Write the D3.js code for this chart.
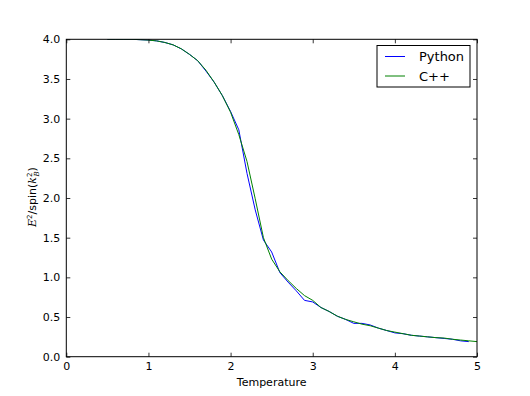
<!DOCTYPE html>
<html>
<head>
<meta charset="utf-8">
<script src="https://cdn.jsdelivr.net/npm/d3@7"></script>
<style>
  html, body { margin: 0; padding: 0; background: #fff; }
  svg { display: block; }
  text { font-family: "DejaVu Sans", sans-serif; fill: #000; }
</style>
</head>
<body>
<svg id="chart" width="530" height="396"></svg>
<script>
// ---- data ----
const pythonTemps = [0.5,0.6,0.7,0.8,0.9,1.0,1.1,1.2,1.3,1.4,1.5,1.6,1.7,1.8,1.9,2.0,2.1,2.2,2.3,2.4,2.5,2.6,2.7,2.8,2.9,3.0,3.1,3.2,3.3,3.4,3.5,3.6,3.7,3.8,3.9,4.0,4.1,4.2,4.3,4.4,4.5,4.6,4.7,4.8,4.9];
const pythonValues = [4.00,4.00,4.00,4.00,3.995,3.99,3.98,3.96,3.93,3.88,3.81,3.73,3.60,3.46,3.29,3.09,2.86,2.31,1.85,1.47,1.32,1.06,0.94,0.83,0.71,0.69,0.62,0.57,0.51,0.47,0.42,0.42,0.40,0.36,0.33,0.30,0.29,0.27,0.26,0.25,0.24,0.23,0.22,0.20,0.19];
const cppTemps = [0.5,0.6,0.7,0.8,0.9,1.0,1.1,1.2,1.3,1.4,1.5,1.6,1.7,1.8,1.9,2.0,2.1,2.2,2.3,2.4,2.5,2.6,2.7,2.8,2.9,3.0,3.1,3.2,3.3,3.4,3.5,3.6,3.7,3.8,3.9,4.0,4.1,4.2,4.3,4.4,4.5,4.6,4.7,4.8,4.9,5.0];
const cppValues = [4.00,4.00,4.00,4.00,3.995,3.99,3.98,3.96,3.93,3.88,3.81,3.73,3.61,3.46,3.29,3.08,2.80,2.46,1.99,1.50,1.23,1.07,0.96,0.86,0.77,0.71,0.62,0.57,0.51,0.47,0.44,0.41,0.39,0.36,0.33,0.31,0.29,0.27,0.26,0.25,0.24,0.235,0.22,0.21,0.20,0.19];
const xTicks = [0,1,2,3,4,5];
const yTicks = [0,0.5,1,1.5,2,2.5,3,3.5,4];
const seriesNames = ["Python", "C++"];
const seriesColors = ["#0000ff", "#008000"];

// ---- layout ----
const mLeft = 66.3, mRight = 477, mTop = 39.3, mBottom = 356.7;
const svg = d3.select("#chart");
const x = d3.scaleLinear().domain([0,5]).range([mLeft, mRight]);
const y = d3.scaleLinear().domain([0,4]).range([mBottom, mTop]);

const plot = svg.append("g");
plot.append("defs").append("clipPath").attr("id","clip")
  .append("rect").attr("x", mLeft).attr("y", mTop).attr("width", mRight-mLeft).attr("height", mBottom-mTop);

const line = d3.line().x(d => x(d[0])).y(d => y(d[1]));
const series = [
  d3.zip(pythonTemps, pythonValues),
  d3.zip(cppTemps, cppValues)
];
series.forEach((s, i) => {
  plot.append("path").datum(s)
    .attr("d", line)
    .attr("fill", "none")
    .attr("stroke", seriesColors[i])
    .attr("stroke-width", 1)
    .attr("clip-path", "url(#clip)");
});

// ---- axes (inward ticks on all sides) ----
const fmtY = d3.format(".1f");
const axB = d3.axisBottom(x).tickValues(xTicks).tickSizeInner(-4).tickSizeOuter(0).tickPadding(6).tickFormat(d3.format("d"));
const axT = d3.axisTop(x).tickValues(xTicks).tickSizeInner(-4).tickSizeOuter(0).tickFormat("");
const axL = d3.axisLeft(y).tickValues(yTicks).tickSizeInner(-4).tickSizeOuter(0).tickPadding(6).tickFormat(fmtY);
const axR = d3.axisRight(y).tickValues(yTicks).tickSizeInner(-4).tickSizeOuter(0).tickFormat("");

function styleAxis(g) {
  g.select(".domain").remove();
  g.selectAll("line").attr("stroke", "#000").attr("stroke-width", 0.8);
  g.selectAll("text").style("font-family", "DejaVu Sans, sans-serif").style("font-size", "11px").attr("fill", "#000");
}
svg.append("g").attr("transform", `translate(0,${mBottom})`).call(axB).call(styleAxis);
svg.append("g").attr("transform", `translate(0,${mTop})`).call(axT).call(styleAxis);
svg.append("g").attr("transform", `translate(${mLeft},0)`).call(axL).call(styleAxis);
svg.append("g").attr("transform", `translate(${mRight},0)`).call(axR).call(styleAxis);

// frame
svg.append("rect").attr("x", mLeft).attr("y", mTop).attr("width", mRight-mLeft).attr("height", mBottom-mTop)
  .attr("fill", "none").attr("stroke", "#000").attr("stroke-width", 1);

// ---- labels ----
svg.append("text").attr("x", (mLeft+mRight)/2).attr("y", 386)
  .attr("text-anchor", "middle").style("font-size", "11px").text("Temperature");

const yl = svg.append("text").attr("transform", "translate(36,197) rotate(-90)")
  .attr("text-anchor", "middle").style("font-size", "11px");
yl.append("tspan").style("font-family", "DejaVu Serif, serif").style("font-style", "italic").text("E");
yl.append("tspan").attr("dy", -4).style("font-size", "7px").text("2");
yl.append("tspan").attr("dy", 4).text("/spin(");
yl.append("tspan").style("font-family", "DejaVu Serif, serif").style("font-style", "italic").text("k");
yl.append("tspan").attr("dy", -4).style("font-size", "7px").text("2");
yl.append("tspan").attr("dx", -4).attr("dy", 7).style("font-size", "7px").style("font-family", "DejaVu Serif, serif").style("font-style", "italic").text("B");
yl.append("tspan").attr("dy", -3).text(")");

// ---- legend ----
const lg = svg.append("g");
lg.append("rect").attr("x", 377).attr("y", 45.5).attr("width", 93).attr("height", 41.5)
  .attr("fill", "#fff").attr("stroke", "#000").attr("stroke-width", 1);
seriesNames.forEach((name, i) => {
  const yy = 56.5 + i * 19.5;
  lg.append("line").attr("x1", 385).attr("x2", 405).attr("y1", yy).attr("y2", yy)
    .attr("stroke", seriesColors[i]).attr("stroke-width", 1);
  lg.append("text").attr("x", 419).attr("y", yy + 4.5).style("font-size", "13px").text(name);
});
</script>
</body>
</html>
